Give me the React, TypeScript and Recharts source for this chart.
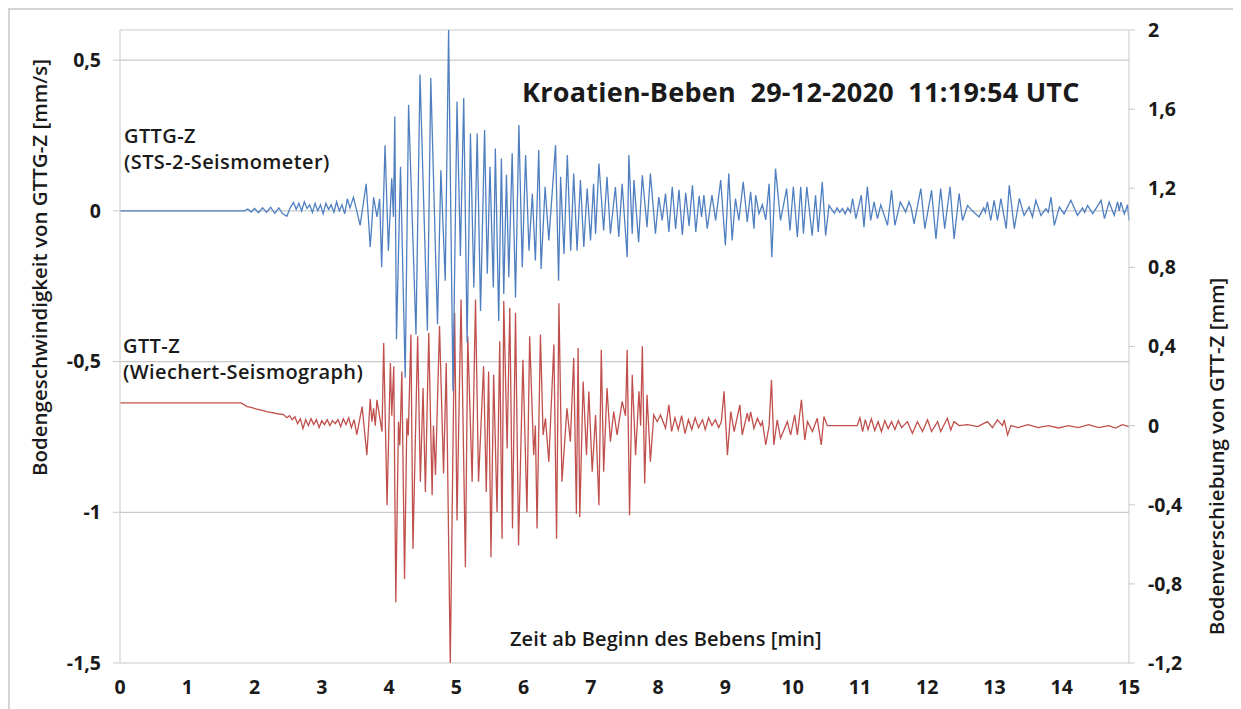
import React from 'react';
import { ComposedChart, Line, XAxis, YAxis, CartesianGrid } from 'recharts';

// GTTG-Z (STS-2) ground velocity, mm/s — time in minutes after onset
const gttgTime = [
  0, 1.85, 1.9, 1.95, 2.0, 2.06, 2.12, 2.18, 2.24, 2.3,
  2.36, 2.42, 2.48, 2.53, 2.58, 2.62, 2.66, 2.7, 2.74, 2.78,
  2.82, 2.86, 2.9, 2.94, 2.98, 3.02, 3.06, 3.1, 3.14, 3.18,
  3.22, 3.26, 3.3, 3.34, 3.38, 3.42, 3.47, 3.52, 3.57, 3.66,
  3.72, 3.77, 3.82, 3.86, 3.89, 3.94, 3.99, 4.04, 4.065, 4.085,
  4.11, 4.17, 4.24, 4.29, 4.4, 4.46, 4.57, 4.62, 4.72, 4.77,
  4.835, 4.885, 4.95, 5.01, 5.06, 5.11, 5.16, 5.21, 5.26, 5.31,
  5.36, 5.42, 5.46, 5.5, 5.55, 5.58, 5.63, 5.67, 5.705, 5.745,
  5.78, 5.83, 5.88, 5.93, 5.98, 6.03, 6.08, 6.13, 6.175, 6.225,
  6.26, 6.32, 6.375, 6.475, 6.52, 6.55, 6.6, 6.65, 6.7, 6.745,
  6.795, 6.845, 6.895, 6.945, 6.995, 7.04, 7.07, 7.12, 7.19, 7.24,
  7.29, 7.365, 7.415, 7.465, 7.54, 7.565, 7.615, 7.64, 7.71, 7.765,
  7.835, 7.885, 7.96, 8.01, 8.06, 8.11, 8.16, 8.21, 8.26, 8.31,
  8.36, 8.41, 8.46, 8.51, 8.56, 8.61, 8.645, 8.68, 8.73, 8.8,
  8.855, 8.93, 9.0, 9.05, 9.1, 9.15, 9.2, 9.265, 9.325, 9.375,
  9.425, 9.45, 9.5, 9.55, 9.6, 9.65, 9.69, 9.745, 9.82, 9.91,
  9.96, 10.01, 10.07, 10.12, 10.16, 10.21, 10.29, 10.34, 10.38, 10.44,
  10.49, 10.54, 10.58, 10.62, 10.66, 10.7, 10.74, 10.78, 10.82, 10.86,
  10.89, 10.94, 11.02, 11.06, 11.11, 11.16, 11.21, 11.26, 11.31, 11.41,
  11.47, 11.52, 11.6, 11.68, 11.73, 11.76, 11.805, 11.905, 11.965, 12.065,
  12.13, 12.2, 12.26, 12.34, 12.4, 12.475, 12.525, 12.6, 12.67, 12.77,
  12.84, 12.865, 12.895, 12.945, 12.995, 13.045, 13.095, 13.175, 13.22, 13.295,
  13.37, 13.44, 13.515, 13.565, 13.615, 13.69, 13.765, 13.8, 13.84, 13.89,
  13.965, 14.035, 14.135, 14.235, 14.31, 14.34, 14.385, 14.46, 14.585, 14.635,
  14.705, 14.78, 14.83, 14.855, 14.88, 14.93, 14.98, 15,
];
const gttgVelocity = [
  0, 0, 0.006, -0.004, 0.008, -0.006, 0.01, -0.005, 0.012, -0.008,
  0.01, -0.01, -0.018, 0.01, 0.028, 0.005, 0.025, 0, 0.03, 0.008,
  0.02, -0.005, 0.025, 0, 0.02, -0.01, 0.025, 0.005, 0.02, -0.005,
  0.03, 0, 0.02, -0.01, 0.04, 0.01, 0.045, 0, -0.048, 0.09,
  -0.12, 0.045, -0.02, 0.04, -0.187, 0.218, -0.132, 0.108, -0.02, 0.313,
  -0.426, 0.146, -0.554, 0.352, -0.41, 0.452, -0.398, 0.441, -0.376, 0.135,
  -0.232, 0.6, -0.598, 0.363, -0.15, 0.374, -0.437, 0.257, -0.254, 0.257,
  -0.332, 0.268, -0.209, 0.146, -0.254, 0.207, -0.365, 0.174, -0.276, 0.12,
  -0.22, 0.191, -0.287, 0.285, -0.187, 0.185, -0.132, 0.057, -0.165, 0.202,
  -0.193, 0.08, -0.098, 0.218, -0.232, 0.113, -0.143, 0.185, -0.132, 0.124,
  -0.132, 0.102, -0.12, 0.074, -0.098, 0.09, -0.076, 0.157, -0.065, 0.113,
  -0.076, 0.079, -0.087, 0.09, -0.154, 0.185, -0.076, 0.102, -0.104, 0.118,
  -0.054, 0.124, -0.076, 0.046, -0.032, 0.057, -0.07, 0.08, -0.06, 0.07,
  -0.08, 0.06, -0.05, 0.085, -0.07, 0.05, -0.02, 0.052, -0.059, 0.052,
  -0.032, 0.102, -0.115, 0.124, -0.098, 0.041, -0.032, 0.096, -0.037, 0.063,
  -0.059, 0.052, -0.009, 0.02, -0.03, 0.09, -0.154, 0.14, -0.032, 0.074,
  -0.065, 0.08, -0.087, 0.08, -0.076, 0.08, -0.082, 0.052, -0.07, 0.096,
  -0.082, 0.018, 0.005, -0.008, 0.01, -0.005, 0.008, -0.01, 0.01, -0.005,
  0.041, -0.026, 0.052, -0.054, 0.08, -0.032, 0.03, -0.026, 0.02, -0.048,
  0.068, -0.048, 0.029, -0.004, 0.03, 0.012, -0.043, 0.074, -0.059, 0.068,
  -0.093, 0.074, -0.059, 0.08, -0.093, 0.057, -0.032, 0.018, 0, -0.02,
  0.01, -0.005, 0.03, -0.032, 0.035, -0.032, 0.041, -0.059, 0.085, -0.059,
  0.041, -0.015, 0.013, -0.02, 0.035, -0.015, 0.007, -0.005, 0.046, -0.048,
  0.013, -0.01, 0.035, -0.015, 0.01, -0.005, 0.018, -0.01, 0.035, -0.026,
  0.029, -0.015, 0.03, 0, 0.029, -0.01, 0.02, -0.032,
];

// GTT-Z (Wiechert) ground displacement, mm
const gttTime = [
  0, 1.8, 1.89, 1.95, 2.02, 2.1, 2.18, 2.26, 2.34, 2.43,
  2.48, 2.52, 2.56, 2.6, 2.64, 2.68, 2.72, 2.76, 2.8, 2.84,
  2.88, 2.92, 2.96, 3.0, 3.04, 3.08, 3.12, 3.16, 3.2, 3.24,
  3.28, 3.32, 3.36, 3.4, 3.44, 3.48, 3.52, 3.6, 3.67, 3.72,
  3.745, 3.77, 3.795, 3.82, 3.895, 3.92, 3.97, 4.02, 4.04, 4.07,
  4.1, 4.14, 4.16, 4.19, 4.23, 4.265, 4.285, 4.325, 4.355, 4.425,
  4.465, 4.505, 4.54, 4.59, 4.64, 4.66, 4.69, 4.75, 4.81, 4.85,
  4.91, 4.975, 5.01, 5.07, 5.135, 5.17, 5.235, 5.285, 5.33, 5.405,
  5.445, 5.48, 5.515, 5.555, 5.605, 5.645, 5.68, 5.705, 5.755, 5.795,
  5.835, 5.88, 5.925, 5.99, 6.05, 6.09, 6.15, 6.175, 6.2, 6.25,
  6.29, 6.325, 6.375, 6.45, 6.49, 6.525, 6.57, 6.645, 6.695, 6.745,
  6.785, 6.81, 6.835, 6.885, 6.935, 6.97, 7.02, 7.07, 7.12, 7.155,
  7.19, 7.24, 7.29, 7.34, 7.39, 7.465, 7.515, 7.54, 7.575, 7.615,
  7.665, 7.715, 7.74, 7.765, 7.8, 7.835, 7.885, 7.935, 7.985, 8.035,
  8.11, 8.16, 8.2, 8.25, 8.3, 8.35, 8.4, 8.45, 8.5, 8.55,
  8.6, 8.66, 8.7, 8.75, 8.8, 8.85, 8.9, 8.94, 8.98, 9.03,
  9.08, 9.13, 9.215, 9.25, 9.325, 9.35, 9.375, 9.425, 9.475, 9.525,
  9.55, 9.6, 9.65, 9.685, 9.72, 9.77, 9.82, 9.92, 9.97, 10.03,
  10.07, 10.13, 10.18, 10.22, 10.295, 10.365, 10.425, 10.465, 10.515, 10.96,
  11.0, 11.04, 11.08, 11.12, 11.17, 11.22, 11.27, 11.32, 11.37, 11.42,
  11.47, 11.52, 11.57, 11.62, 11.705, 11.78, 11.855, 11.93, 12.005, 12.065,
  12.155, 12.2, 12.3, 12.35, 12.4, 12.475, 12.6, 12.75, 12.895, 12.97,
  13.045, 13.12, 13.145, 13.195, 13.245, 13.35, 13.5, 13.65, 13.8, 13.95,
  14.1, 14.25, 14.4, 14.55, 14.7, 14.8, 14.9, 15,
];
const gttDisplacement = [
  0.115, 0.115, 0.096, 0.092, 0.085, 0.078, 0.071, 0.066, 0.06, 0.056,
  0.04, 0.05, 0.03, 0.045, 0.01, 0.035, -0.015, 0.03, 0, 0.035,
  0.005, 0.03, -0.01, 0.025, 0.005, 0.03, 0, 0.025, 0.01, 0.03,
  -0.005, 0.035, 0.005, 0.04, -0.01, 0.03, -0.046, 0.096, -0.149, 0.135,
  0.02, 0.088, 0, 0.13, -0.03, 0.418, -0.403, 0.316, 0.05, 0.3,
  -0.893, 0.02, -0.1, 0.274, -0.775, 0.037, -0.05, 0.46, -0.623, 0.452,
  -0.284, 0.19, -0.335, 0.469, -0.352, 0, -0.25, 0.503, -0.242, 0.316,
  -1.2, 0.57, -0.479, 0.638, -0.716, 0.452, -0.284, 0.638, -0.284, 0.3,
  -0.335, 0.274, -0.665, 0.257, -0.437, 0.426, -0.572, 0.63, -0.115, 0.596,
  -0.52, 0.57, -0.606, 0.333, -0.437, 0.452, -0.149, 0, -0.52, 0.46,
  -0.047, 0.037, -0.183, 0.41, -0.572, 0.618, -0.284, 0.088, -0.081, 0.342,
  -0.445, 0.392, -0.462, 0.223, -0.149, 0.173, -0.233, 0.054, -0.403, 0.384,
  -0.233, 0.19, -0.081, 0.071, -0.047, 0.122, 0.05, 0.384, -0.453, 0.257,
  -0.149, 0.173, 0, 0.401, -0.293, 0.156, -0.183, 0.054, 0.02, 0.054,
  -0.013, 0.105, -0.03, 0.04, -0.02, 0.05, -0.04, 0.03, -0.02, 0.04,
  -0.01, 0.03, -0.02, 0.04, 0, 0.03, -0.01, 0.02, 0.173, -0.149,
  0.071, -0.03, 0.105, -0.047, 0.063, 0.02, 0.07, -0.014, 0.037, 0,
  0.02, -0.098, 0, 0.232, -0.098, 0.029, -0.064, 0.02, -0.047, 0.054,
  -0.047, 0.13, -0.073, 0.02, -0.03, 0.037, -0.098, 0.046, 0, 0,
  0.04, -0.03, 0.03, -0.02, 0.035, -0.025, 0.02, -0.03, 0.025, -0.015,
  0.02, -0.02, 0.025, -0.01, 0.02, -0.039, 0.02, -0.03, 0.029, -0.03,
  0.02, -0.03, 0.037, -0.022, 0.02, 0, 0.005, -0.005, 0.02, -0.01,
  0.029, 0, 0.029, -0.047, 0, -0.01, 0.005, -0.01, 0, -0.012,
  0, -0.01, 0.005, -0.01, 0, -0.012, 0.005, -0.005,
];

const minuteTicks = [0, 1, 2, 3, 4, 5, 6, 7, 8, 9, 10, 11, 12, 13, 14, 15];
const velocityTicks = [-1.5, -1, -0.5, 0, 0.5];
const displacementTicks = [-1.2, -0.8, -0.4, 0, 0.4, 0.8, 1.2, 1.6, 2];

const gttgData = gttgTime.map((t, i) => ({ t, v: gttgVelocity[i] }));
const gttData = gttTime.map((t, i) => ({ t, d: gttDisplacement[i] }));

const FONT = '"Open Sans", "Noto Sans", sans-serif';
const BLUE = '#4f7fc0';
const RED = '#c0504d';
const GRID = '#c9c9c9';

const comma = (v: number) => String(v).replace('.', ',');

const tickStyle = { fontSize: 19.5, fontWeight: 700, fill: '#1a1a1a', fontFamily: FONT };

const rotatedTitle = (centerX: number, centerY: number): React.CSSProperties => ({
  position: 'absolute',
  left: centerX - 250,
  top: centerY - 10.5,
  width: 500,
  height: 21,
  fontSize: 20.5,
  fontWeight: 600,
  lineHeight: '21px',
  textAlign: 'center',
  whiteSpace: 'pre',
  transform: 'rotate(-90deg)',
});

const App: React.FC = () => {
  return (
    <div
      style={{
        position: 'relative',
        width: 1227,
        height: 699,
        border: '2px solid #d4d4d4',
        fontFamily: FONT,
        color: '#1a1a1a',
        background: '#fff',
      }}
    >
      <ComposedChart width={1227} height={699} margin={{ top: 20, right: 48, bottom: 16, left: 50 }}>
        <CartesianGrid vertical={false} stroke={GRID} yAxisId="vel" strokeWidth={1.2} />
        <XAxis
          dataKey="t"
          type="number"
          domain={[0, 15]}
          ticks={minuteTicks}
          interval={0}
          axisLine={false}
          tickLine={false}
          tickSize={8}
          tickMargin={9}
          height={30}
          tick={tickStyle}
        />
        <YAxis
          yAxisId="vel"
          orientation="left"
          domain={[-1.5, 0.6]}
          ticks={velocityTicks}
          interval={0}
          allowDataOverflow
          width={60}
          stroke={GRID}
          tickSize={7}
          tickMargin={12}
          tickFormatter={comma}
          tick={tickStyle}
        />
        <YAxis
          yAxisId="disp"
          orientation="right"
          domain={[-1.2, 2]}
          ticks={displacementTicks}
          interval={0}
          allowDataOverflow
          width={60}
          stroke={GRID}
          tickSize={6}
          tickMargin={13}
          tickFormatter={comma}
          tick={tickStyle}
        />
        <Line
          data={gttData}
          yAxisId="disp"
          dataKey="d"
          type="linear"
          stroke={RED}
          strokeWidth={1.3}
          dot={false}
          isAnimationActive={false}
        />
        <Line
          data={gttgData}
          yAxisId="vel"
          dataKey="v"
          type="linear"
          stroke={BLUE}
          strokeWidth={1.3}
          dot={false}
          isAnimationActive={false}
        />
      </ComposedChart>

      <div style={{ position: 'absolute', left: 512, top: 68, fontSize: 27, fontWeight: 700, lineHeight: 1, letterSpacing: 0.25, whiteSpace: 'pre' }}>
        {'Kroatien-Beben  29-12-2020  11:19:54 UTC'}
      </div>

      <div style={{ position: 'absolute', left: 114, top: 113, fontSize: 20, fontWeight: 600, lineHeight: '26px', letterSpacing: 0.4, whiteSpace: 'pre' }}>
        {'GTTG-Z\n(STS-2-Seismometer)'}
      </div>

      <div style={{ position: 'absolute', left: 113, top: 323, fontSize: 20, fontWeight: 600, lineHeight: '26px', letterSpacing: 0.4, whiteSpace: 'pre' }}>
        {'GTT-Z\n(Wiechert-Seismograph)'}
      </div>

      <div style={{ position: 'absolute', left: 500, top: 619, fontSize: 20, fontWeight: 600, lineHeight: 1, letterSpacing: 0.1, whiteSpace: 'pre' }}>
        Zeit ab Beginn des Bebens [min]
      </div>

      <div style={rotatedTitle(29, 257)}>Bodengeschwindigkeit von GTTG-Z [mm/s]</div>

      <div style={rotatedTitle(1206, 446)}>Bodenverschiebung von GTT-Z [mm]</div>
    </div>
  );
};

export default App;
